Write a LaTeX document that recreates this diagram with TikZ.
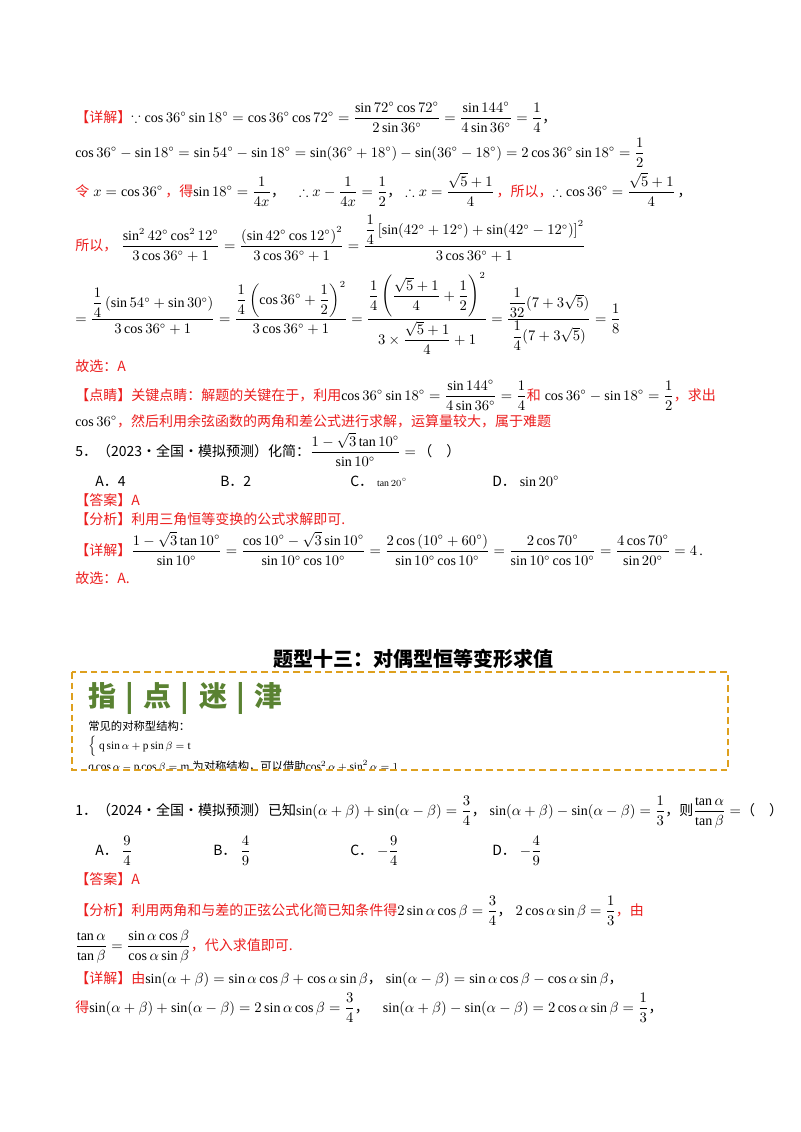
\documentclass[tikz,border=0pt]{standalone}
\usepackage{amsmath,amssymb}
\usepackage{fontspec}
\setmainfont{Liberation Serif}
\newfontfamily\cjk{Noto Sans CJK SC}
\definecolor{rd}{RGB}{235,30,30}
\definecolor{gd}{RGB}{222,160,30}
\definecolor{gr}{RGB}{90,130,50}
\newcommand{\dg}{^\circ}
\newcommand{\cm}{{\cjk ，}}
\begin{document}
\begin{tikzpicture}[x=0.75pt,y=-0.75pt,
  tx/.style={anchor=base west,inner sep=0pt,font=\fontsize{10.5}{12}\selectfont},
  r/.style={text=rd}]
\useasboundingbox (0,0) rectangle (800,1132);
\node[tx] (l1) at (75,122) {{\cjk\color{rd}【详解】}$\because\cos36\dg\sin18\dg=\cos36\dg\cos72\dg=\dfrac{\sin72\dg\cos72\dg}{2\sin36\dg}=\dfrac{\sin144\dg}{4\sin36\dg}=\dfrac14$\cm};
\node[tx] (l2) at (75,157) {$\cos36\dg-\sin18\dg=\sin54\dg-\sin18\dg=\sin(36\dg+18\dg)-\sin(36\dg-18\dg)=2\cos36\dg\sin18\dg=\dfrac12$};
\node[tx] (l3) at (75,196) {{\cjk\color{rd}令}$\;x=\cos36\dg$\,{\cjk\color{rd}，得}$\sin18\dg=\dfrac1{4x}$\cm\quad$\therefore x-\dfrac1{4x}=\dfrac12$\cm\;$\therefore x=\dfrac{\sqrt5+1}4$\,{\cjk\color{rd}，所以，}$\therefore\cos36\dg=\dfrac{\sqrt5+1}4$\,\cm};
\node[tx] (l4) at (75,250) {{\cjk\color{rd}所以，}\;$\dfrac{\sin^2 42\dg\cos^2 12\dg}{3\cos36\dg+1}=\dfrac{\left(\sin42\dg\cos12\dg\right)^2}{3\cos36\dg+1}=\dfrac{\dfrac14\left[\sin(42\dg+12\dg)+\sin(42\dg-12\dg)\right]^2}{3\cos36\dg+1}$};
\node[tx] (l5) at (75,323) {$=\dfrac{\dfrac14\left(\sin54\dg+\sin30\dg\right)}{3\cos36\dg+1}=\dfrac{\dfrac14\left(\cos36\dg+\dfrac12\right)^2}{3\cos36\dg+1}=\dfrac{\dfrac14\left(\dfrac{\sqrt5+1}{4}+\dfrac12\right)^2}{3\times\dfrac{\sqrt5+1}{4}+1}=\dfrac{\dfrac1{32}(7+3\sqrt5)}{\dfrac14(7+3\sqrt5)}=\dfrac18$};
\node[tx,r] (l6) at (75,371) {\cjk 故选：A};
\node[tx] (l7) at (75,400) {{\cjk\color{rd}【点睛】关键点睛：解题的关键在于，利用}$\cos36\dg\sin18\dg=\dfrac{\sin144\dg}{4\sin36\dg}=\dfrac14${\cjk\color{rd}和}\;$\cos36\dg-\sin18\dg=\dfrac12${\cjk\color{rd}，求出}};
\node[tx] (l8) at (75,426) {$\cos36\dg${\cjk\color{rd}，然后利用余弦函数的两角和差公式进行求解，运算量较大，属于难题}};
\node[tx] (l9) at (75,456) {{\cjk 5．（2023·全国·模拟预测）化简：}$\dfrac{1-\sqrt3\tan10\dg}{\sin10\dg}=$\,{\cjk（\quad）}};
\node[tx] (a1) at (95,486) {\cjk A．4};
\node[tx] (a2) at (220,486) {\cjk B．2};
\node[tx] (a3) at (350,486) {{\cjk C．}\;$\scriptstyle\tan20\dg$};
\node[tx] (a4) at (492,486) {{\cjk D．}\;$\sin20\dg$};
\node[tx,r] (l10) at (75,505) {\cjk 【答案】A};
\node[tx,r] (l11) at (75,524) {\cjk 【分析】利用三角恒等变换的公式求解即可.};
\node[tx] (l12) at (75,555) {{\cjk\color{rd}【详解】}$\dfrac{1-\sqrt3\tan10\dg}{\sin10\dg}=\dfrac{\cos10\dg-\sqrt3\sin10\dg}{\sin10\dg\cos10\dg}=\dfrac{2\cos\left(10\dg+60\dg\right)}{\sin10\dg\cos10\dg}=\dfrac{2\cos70\dg}{\sin10\dg\cos10\dg}=\dfrac{4\cos70\dg}{\sin20\dg}=4$\,.};
\node[tx,r] (l13) at (75,583) {\cjk 故选：A.};
\node[anchor=base,inner sep=0pt,font=\cjk\fontsize{15}{18}\selectfont\bfseries] (ttl) at (413,666) {题型十三：对偶型恒等变形求值};
\draw[gd,line width=1.3pt,dash pattern=on 5pt off 3pt] (72,672) rectangle (728,770);
\node[tx,text=gr,font=\cjk\fontsize{21}{24}\selectfont\bfseries] (zd) at (88,706) {指\hspace{7pt}|\hspace{7pt}点\hspace{7pt}|\hspace{7pt}迷\hspace{7pt}|\hspace{7pt}津};
\node[tx,font=\cjk\fontsize{8.5}{10}\selectfont] (c1) at (88,730) {常见的对称型结构：};
\node[tx,font=\fontsize{8.5}{10}\selectfont] (c2) at (88,749) {$\Big\{\;\mathrm{q}\sin\alpha+\mathrm{p}\sin\beta=\mathrm{t}$};
\begin{scope}\clip (72,755) rectangle (728,768);
\node[tx,font=\fontsize{8.5}{10}\selectfont] (c3) at (88,770) {$\mathrm{q}\cos\alpha-\mathrm{p}\cos\beta=\mathrm{m}$\;{\cjk 为对称结构，可以借助}$\cos^2\alpha+\sin^2\alpha=1$};
\end{scope}
\node[tx] (p1) at (75,815) {{\cjk 1．（2024·全国·模拟预测）已知}$\sin(\alpha+\beta)+\sin(\alpha-\beta)=\dfrac34$\cm\;$\sin(\alpha+\beta)-\sin(\alpha-\beta)=\dfrac13$\cm{\cjk 则}$\dfrac{\tan\alpha}{\tan\beta}=${\cjk（\quad）}};
\node[tx] (b1) at (95,855) {{\cjk A．}\;$\dfrac94$};
\node[tx] (b2) at (213,855) {{\cjk B．}\;$\dfrac49$};
\node[tx] (b3) at (350,855) {{\cjk C．}\;$-\dfrac94$};
\node[tx] (b4) at (492,855) {{\cjk D．}\;$-\dfrac49$};
\node[tx,r] (p2) at (75,884) {\cjk 【答案】A};
\node[tx] (p3) at (75,915) {{\cjk\color{rd}【分析】利用两角和与差的正弦公式化简已知条件得}$2\sin\alpha\cos\beta=\dfrac34$\cm\;$2\cos\alpha\sin\beta=\dfrac13${\cjk\color{rd}，由}};
\node[tx] (p4) at (75,950) {$\dfrac{\tan\alpha}{\tan\beta}=\dfrac{\sin\alpha\cos\beta}{\cos\alpha\sin\beta}${\cjk\color{rd}，代入求值即可.}};
\node[tx] (p5) at (75,983) {{\cjk\color{rd}【详解】由}$\sin(\alpha+\beta)=\sin\alpha\cos\beta+\cos\alpha\sin\beta$\cm\;$\sin(\alpha-\beta)=\sin\alpha\cos\beta-\cos\alpha\sin\beta$\cm};
\node[tx] (p6) at (75,1012) {{\cjk\color{rd}得}$\sin(\alpha+\beta)+\sin(\alpha-\beta)=2\sin\alpha\cos\beta=\dfrac34$\cm\quad$\sin(\alpha+\beta)-\sin(\alpha-\beta)=2\cos\alpha\sin\beta=\dfrac13$\cm};
\end{tikzpicture}
\end{document}
